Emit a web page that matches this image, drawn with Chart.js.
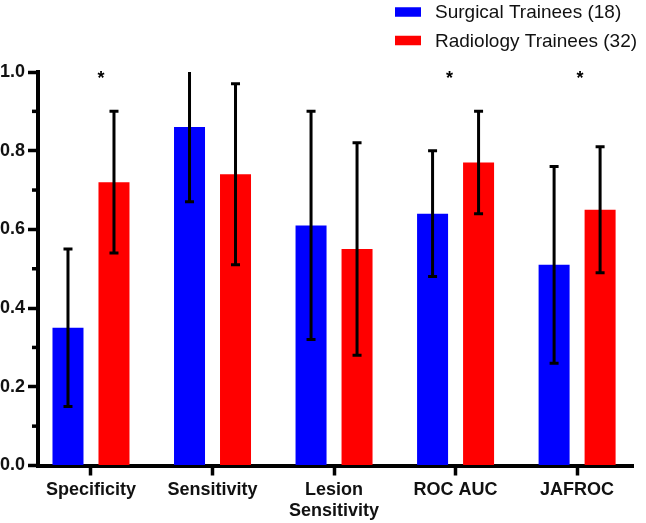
<!DOCTYPE html>
<html>
<head>
<meta charset="utf-8">
<script src="https://cdn.jsdelivr.net/npm/chart.js@4"></script>
<style>
  body { margin: 0; background: #fff; }
  #wrap { width: 646px; height: 523px; position: relative; }
</style>
</head>
<body>
<div id="wrap"><canvas id="chart1"></canvas></div>
<script>
// data
const categories = ["Specificity", "Sensitivity", "Lesion\nSensitivity", "ROC AUC", "JAFROC"];
const seriesNames = ["Surgical Trainees (18)", "Radiology Trainees (32)"];
const surgical = [0.35, 0.86, 0.61, 0.64, 0.51];
const surgicalLo = [0.15, 0.67, 0.32, 0.48, 0.26];
const surgicalHi = [0.55, 1.0, 0.90, 0.80, 0.76];
const radiology = [0.72, 0.74, 0.55, 0.77, 0.65];
const radiologyLo = [0.54, 0.51, 0.28, 0.64, 0.49];
const radiologyHi = [0.90, 0.97, 0.82, 0.90, 0.81];
const significant = [true, false, false, true, true];
const yTicks = [0, 0.2, 0.4, 0.6, 0.8, 1.0];
const yMinorTicks = [0.1, 0.3, 0.5, 0.7, 0.9];

const FONT = "'Liberation Sans', Arial, sans-serif";

function toPoints(vals) {
  return vals.map((v, i) => ({ x: i, y: v }));
}

// error bars (whiskers), drawn from the y scale
const errorBars = {
  id: "errorBars",
  afterDatasetsDraw(chart) {
    const ctx = chart.ctx;
    const y = chart.scales.y;
    ctx.save();
    ctx.strokeStyle = "#000";
    ctx.lineWidth = 3;
    chart.data.datasets.forEach((ds, di) => {
      const meta = chart.getDatasetMeta(di);
      meta.data.forEach((bar, i) => {
        const top = y.getPixelForValue(ds.errHi[i]);
        const bot = y.getPixelForValue(ds.errLo[i]);
        ctx.beginPath();
        ctx.moveTo(bar.x, top);
        ctx.lineTo(bar.x, bot);
        if (ds.errHi[i] < y.max) {
          ctx.moveTo(bar.x - 4.5, top);
          ctx.lineTo(bar.x + 4.5, top);
        }
        ctx.moveTo(bar.x - 4.5, bot);
        ctx.lineTo(bar.x + 4.5, bot);
        ctx.stroke();
      });
    });
    ctx.restore();
  },
};

// minor ticks on y axis, asterisks and the legend
const extras = {
  id: "extras",
  afterDraw(chart) {
    const ctx = chart.ctx;
    const x = chart.scales.x;
    const y = chart.scales.y;
    const left = chart.chartArea.left;
    ctx.save();
    ctx.strokeStyle = "#000";
    ctx.lineWidth = 3.5;
    yMinorTicks.forEach((v) => {
      const py = y.getPixelForValue(v);
      ctx.beginPath();
      ctx.moveTo(left, py);
      ctx.lineTo(left - 6, py);
      ctx.stroke();
    });

    const starNudge = [10, 0, 0, -6, 3];
    ctx.fillStyle = "#000";
    ctx.font = "bold 18px " + FONT;
    ctx.textAlign = "center";
    ctx.textBaseline = "alphabetic";
    significant.forEach((s, i) => {
      if (!s) return;
      ctx.fillText("*", x.getPixelForValue(i) + starNudge[i], y.getPixelForValue(1.0) + 12);
    });

    ctx.font = "19px " + FONT;
    ctx.textAlign = "left";
    ctx.textBaseline = "middle";
    chart.data.datasets.forEach((ds, i) => {
      const cy = 12 + i * 28.5;
      ctx.fillStyle = ds.backgroundColor;
      ctx.fillRect(395, cy - 4.75, 26, 9.5);
      ctx.fillStyle = "#111";
      ctx.fillText(ds.label, 435, cy + 1);
    });
    ctx.restore();
  },
};

let chart1 = document.getElementById("chart1");
let config1 = {
  type: "bar",
  data: {
    datasets: [
      {
        label: seriesNames[0],
        data: toPoints(surgical),
        errLo: surgicalLo,
        errHi: surgicalHi,
        backgroundColor: "#0000FF",
      },
      {
        label: seriesNames[1],
        data: toPoints(radiology),
        errLo: radiologyLo,
        errHi: radiologyHi,
        backgroundColor: "#FF0000",
      },
    ],
  },
  options: {
    responsive: true,
    maintainAspectRatio: false,
    animation: false,
    categoryPercentage: 0.757,
    barPercentage: 0.674,
    layout: {
      padding: { left: 0, right: 13, top: 72, bottom: 0 },
    },
    scales: {
      x: {
        type: "linear",
        min: -0.436,
        max: 4.46,
        offset: false,
        afterBuildTicks: (scale) => {
          scale.ticks = categories.map((c, i) => ({ value: i }));
        },
        afterFit: (scale) => {
          scale.height = 57.5;
        },
        border: { color: "#000", width: 4 },
        grid: {
          offset: false,
          drawOnChartArea: false,
          tickLength: 10,
          tickWidth: 3.5,
          tickColor: "#000",
        },
        ticks: {
          autoSkip: false,
          maxRotation: 0,
          padding: 4,
          color: "#111",
          font: { family: FONT, size: 18, weight: "bold", lineHeight: 1.15 },
          callback: (v) => (categories[v] || "").split("\n"),
        },
      },
      y: {
        min: 0,
        max: 1,
        afterBuildTicks: (scale) => {
          scale.ticks = yTicks.map((v) => ({ value: v }));
        },
        afterFit: (scale) => {
          scale.width = 38;
        },
        border: { color: "#000", width: 4 },
        grid: {
          drawOnChartArea: false,
          tickLength: 10,
          tickWidth: 3.5,
          tickColor: "#000",
        },
        ticks: {
          padding: 3,
          color: "#111",
          font: { family: FONT, size: 18, weight: "bold" },
          callback: (v) => Number(v).toFixed(1),
        },
      },
    },
    plugins: {
      legend: { display: false },
      tooltip: { enabled: false },
    },
  },
  plugins: [errorBars, extras],
};

let barChart = new Chart(chart1, config1);
</script>
</body>
</html>
